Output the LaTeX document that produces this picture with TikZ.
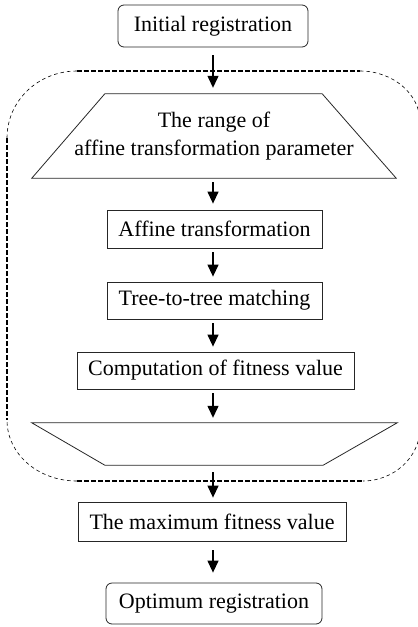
\documentclass[tikz,border=0pt]{standalone}
\usepackage{fontspec}
\setmainfont{Liberation Serif}
\usetikzlibrary{calc,arrows.meta}
\begin{document}
\begin{tikzpicture}[x=1pt,y=-1pt,
  txt/.style={font=\fontsize{22}{28}\selectfont},
  flowbox/.style={txt, draw=black!85, line width=0.8pt, inner sep=0pt},
  roundbox/.style={flowbox, rounded corners=6pt},
  trapnode/.style={txt, inner sep=0pt, align=center},
  shapeline/.style={draw=black!85, line width=0.8pt, line join=miter},
  framestraight/.style={line width=1.2pt, dash pattern=on 4.5pt off 2.5pt},
  framearc/.style={line width=0.6pt, dash pattern=on 3.5pt off 3pt},
  arr/.style={line width=1.3pt, -{Triangle[width=11pt,length=12pt]}}]
\useasboundingbox (0,0) rectangle (418,627);
\begin{scope}
\clip (0,0) rectangle (418,627);
% dashed loop frame
\draw[framestraight] (77,71) -- (360,71);
\draw[framestraight] (7,138) -- (7,420);
\draw[framestraight] (77,481) -- (363,481);
\draw[framestraight] (420,122) -- (420,428);
\draw[framearc] (7,138) .. controls (7,101) and (38,71) .. (77,71);
\draw[framearc] (360,71) .. controls (393,71) and (420,94) .. (420,122);
\draw[framearc] (420,428) .. controls (420,457) and (394,481) .. (363,481);
\draw[framearc] (77,481) .. controls (38,481) and (7,454) .. (7,420);
\end{scope}
\coordinate (axis) at (213,0);
\node[roundbox, minimum width=190pt, minimum height=42pt] (init) at (213,26) {Initial registration};
\node[trapnode, minimum width=364pt, minimum height=84pt] (range) at (214,136) {The range of\\affine transformation parameter};
\draw[shapeline] (range.south west) -- (range.south east) -- ($(range.north east)+(-74,0)$) -- ($(range.north west)+(73,0)$) -- cycle;
\node[flowbox, minimum width=215pt, minimum height=38pt] (affine) at (214.5,229) {Affine transformation};
\node[flowbox, minimum width=215pt, minimum height=37pt] (tree) at (214.5,300.5) {Tree-to-tree matching};
\node[flowbox, minimum width=277pt, minimum height=37pt] (comp) at (215.5,370.5) {Computation of fitness value};
\node[trapnode, minimum width=365pt, minimum height=42pt] (loop) at (214.5,444) {};
\draw[shapeline] (loop.north west) -- (loop.north east) -- ($(loop.south east)+(-74,0)$) -- ($(loop.south west)+(73,0)$) -- cycle;
\node[flowbox, minimum width=268pt, minimum height=39pt] (max) at (212,521.5) {The maximum fitness value};
\node[roundbox, minimum width=216pt, minimum height=41pt] (opt) at (214,603.5) {Optimum registration};
% connectors
\draw[arr, shorten <=8pt, shorten >=6pt] (axis |- init.south) -- (axis |- range.north);
\draw[arr, shorten <=4pt, shorten >=6pt] (axis |- range.south) -- (axis |- affine.north);
\draw[arr, shorten <=4pt, shorten >=5pt] (axis |- affine.south) -- (axis |- tree.north);
\draw[arr, shorten <=4pt, shorten >=5pt] (axis |- tree.south) -- (axis |- comp.north);
\draw[arr, shorten <=4pt, shorten >=5pt] (axis |- comp.south) -- (axis |- loop.north);
\draw[arr, shorten <=7pt, shorten >=4pt] (axis |- loop.south) -- (axis |- max.north);
\draw[arr, shorten <=9pt, shorten >=10pt] (axis |- max.south) -- (axis |- opt.north);
\end{tikzpicture}
\end{document}
